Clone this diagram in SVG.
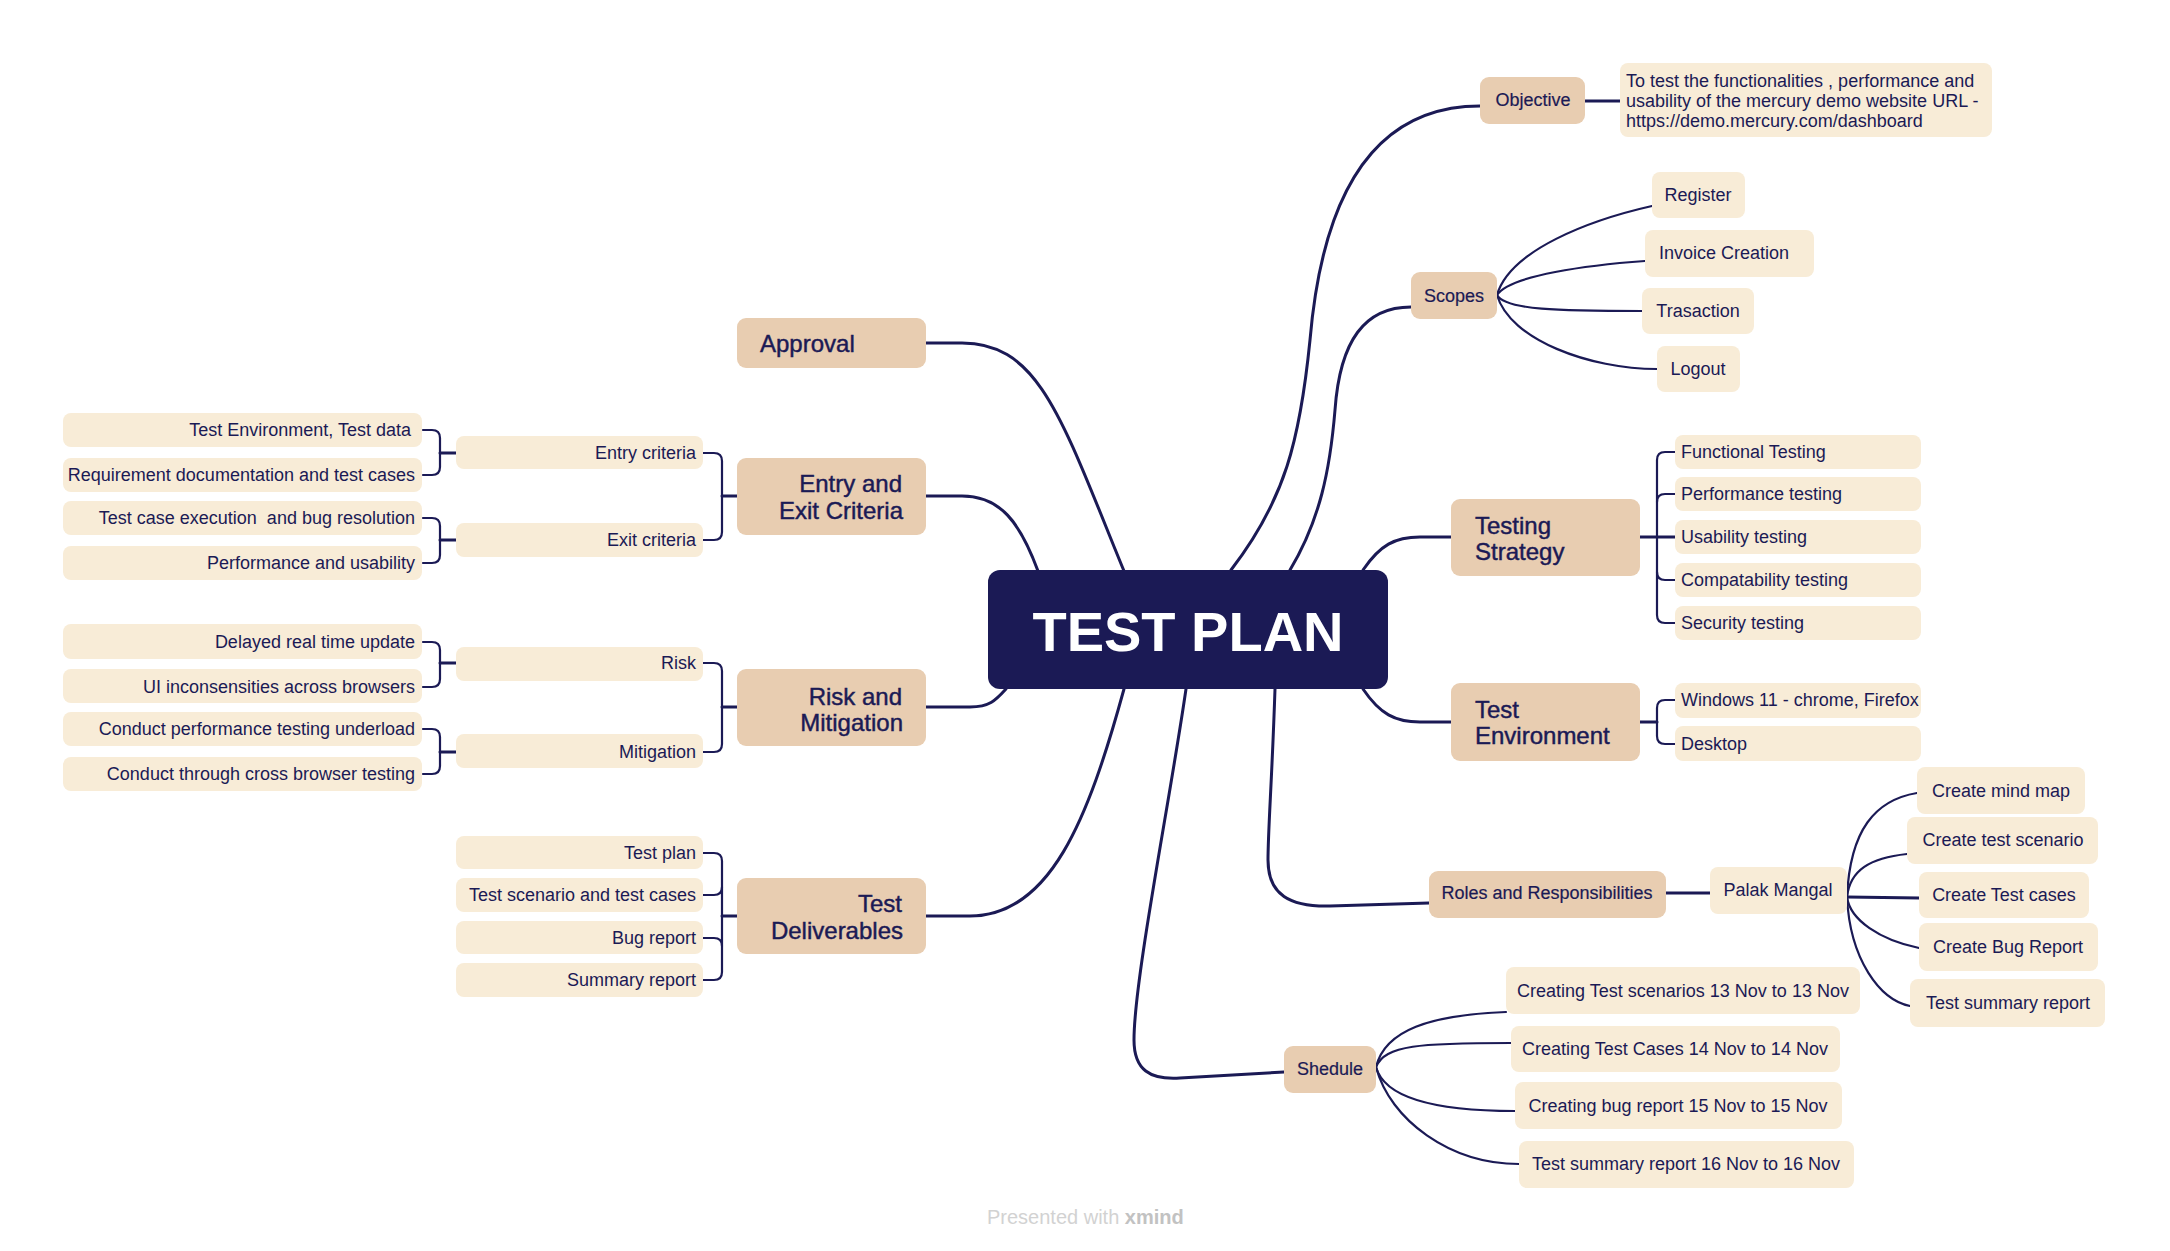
<svg xmlns="http://www.w3.org/2000/svg" width="2170" height="1251" viewBox="0 0 2170 1251">
<style>
text{font-family:"Liberation Sans",Arial,sans-serif;fill:#1b1a55;dominant-baseline:central}
.main rect{fill:#e8cdb1}
.main text{stroke:#1b1a55;stroke-width:0.45}
.main text.s{stroke-width:0.2}
.sub rect{fill:#f8ecd7}
.m{font-size:24px}
.s{font-size:18px}
.c{text-anchor:middle}
.e{text-anchor:end}
.conn path{fill:none;stroke:#1b1a55;stroke-linecap:round;stroke-linejoin:round}
.thick{stroke-width:3}
.thin{stroke-width:2.2}
</style>
<rect width="2170" height="1251" fill="#ffffff"/>
<g id="connectors" class="conn">
  <!-- central to main topics -->
  <path class="thick" d="M926,343 H962 C1040,343 1062,420 1124,571"/>
  <path class="thick" d="M926,496 H962 C1000,496 1020,522 1038,571"/>
  <path class="thick" d="M926,707 H970 C990,707 996,700 1006,689"/>
  <path class="thick" d="M926,916 H970 C1050,916 1088,820 1124,689"/>
  <path class="thick" d="M1231,570 C1285,500 1300,440 1310,340 C1322,200 1370,106 1480,106"/>
  <path class="thick" d="M1290,570 C1320,520 1330,470 1335,410 C1340,340 1365,307 1411,307"/>
  <path class="thick" d="M1363,570 C1380,545 1395,537 1420,537 H1451"/>
  <path class="thick" d="M1363,689 C1380,714 1395,722 1420,722 H1451"/>
  <path class="thick" d="M1275,689 C1272,780 1268,830 1268,860 C1268,895 1290,907 1330,906 L1429,903"/>
  <path class="thick" d="M1186,689 C1170,800 1134,980 1134,1040 C1134,1070 1150,1080 1180,1078 L1284,1072"/>
  <!-- objective / roles straight links -->
  <path class="thick" d="M1585,101 H1620"/>
  <path class="thick" d="M1666,893 H1710"/>
  <!-- scopes children -->
  <path class="thin" d="M1497,295 C1510,250 1590,220 1652,206"/>
  <path class="thin" d="M1497,295 C1510,275 1590,265 1645,261"/>
  <path class="thin" d="M1497,295 C1505,310 1560,311 1642,311"/>
  <path class="thin" d="M1497,295 C1510,340 1590,369 1657,369"/>
  <!-- palak children -->
  <path class="thin" d="M1847,897 C1850,830 1875,800 1917,793"/>
  <path class="thin" d="M1847,897 C1850,870 1870,858 1907,854"/>
  <path class="thick" d="M1847,897 L1919,898"/>
  <path class="thin" d="M1847,897 C1850,920 1880,940 1919,948"/>
  <path class="thin" d="M1847,897 C1850,960 1880,1000 1910,1006"/>
  <!-- shedule children -->
  <path class="thin" d="M1376,1067 C1385,1030 1430,1015 1506,1012"/>
  <path class="thin" d="M1376,1067 C1385,1045 1420,1043 1511,1043"/>
  <path class="thin" d="M1376,1067 C1385,1100 1440,1111 1515,1111"/>
  <path class="thin" d="M1376,1067 C1390,1120 1450,1164 1519,1164"/>
  <!-- testing strategy bracket -->
  <path class="thick" d="M1640,537 H1675"/>
  <path class="thin" d="M1675,452 H1665 Q1657,452 1657,460 V615 Q1657,623 1665,623 H1675"/>
  <path class="thin" d="M1657,502 Q1657,494 1665,494 H1675"/>
  <path class="thin" d="M1657,572 Q1657,580 1665,580 H1675"/>
  <!-- test environment bracket -->
  <path class="thick" d="M1640,722 H1657"/>
  <path class="thin" d="M1675,700 H1665 Q1657,700 1657,708 V736 Q1657,744 1665,744 H1675"/>
  <!-- entry and exit bracket -->
  <path class="thick" d="M737,496 H722"/>
  <path class="thin" d="M703,453 H714 Q722,453 722,461 V532 Q722,540 714,540 H703"/>
  <path class="thick" d="M456,453 H440"/>
  <path class="thin" d="M423,430 H432 Q440,430 440,438 V467 Q440,475 432,475 H423"/>
  <path class="thick" d="M456,540 H440"/>
  <path class="thin" d="M423,518 H432 Q440,518 440,526 V555 Q440,563 432,563 H423"/>
  <!-- risk and mitigation bracket -->
  <path class="thick" d="M737,707 H722"/>
  <path class="thin" d="M703,663 H714 Q722,663 722,671 V744 Q722,752 714,752 H703"/>
  <path class="thick" d="M456,663 H440"/>
  <path class="thin" d="M423,642 H432 Q440,642 440,650 V679 Q440,687 432,687 H423"/>
  <path class="thick" d="M456,752 H440"/>
  <path class="thin" d="M423,729 H432 Q440,729 440,737 V766 Q440,774 432,774 H423"/>
  <!-- deliverables bracket -->
  <path class="thick" d="M737,916 H722"/>
  <path class="thin" d="M703,853 H714 Q722,853 722,861 V972 Q722,980 714,980 H703"/>
  <path class="thin" d="M722,887 Q722,895 714,895 H703"/>
  <path class="thin" d="M722,946 Q722,938 714,938 H703"/>
</g>

<g id="central">
  <rect x="988" y="570" width="400" height="119" rx="12" fill="#1b1a55"/>
  <text x="1188" y="631" class="c" style="fill:#ffffff;font-size:56px;font-weight:bold">TEST PLAN</text>
</g>

<!-- left main topics -->
<g id="approval" class="main"><rect x="737" y="318" width="189" height="50" rx="9"/><text x="760" y="343" class="m">Approval</text></g>
<g id="entry-exit" class="main"><rect x="737" y="458" width="189" height="77" rx="9"/><text x="902" y="483" class="m e">Entry and</text><text x="903" y="510" class="m e">Exit Criteria</text></g>
<g id="risk-mitigation" class="main"><rect x="737" y="669" width="189" height="77" rx="9"/><text x="902" y="696" class="m e">Risk and</text><text x="903" y="722" class="m e">Mitigation</text></g>
<g id="deliverables" class="main"><rect x="737" y="878" width="189" height="76" rx="9"/><text x="902" y="903" class="m e">Test</text><text x="903" y="930" class="m e">Deliverables</text></g>

<!-- left subtopics -->
<g id="entry-criteria" class="sub"><rect x="456" y="436" width="247" height="33" rx="8"/><text x="696" y="453" class="s e">Entry criteria</text></g>
<g id="exit-criteria" class="sub"><rect x="456" y="523" width="247" height="34" rx="8"/><text x="696" y="540" class="s e">Exit criteria</text></g>
<g id="risk" class="sub"><rect x="456" y="647" width="247" height="34" rx="8"/><text x="696" y="663" class="s e">Risk</text></g>
<g id="mitigation" class="sub"><rect x="456" y="734" width="247" height="34" rx="8"/><text x="696" y="752" class="s e">Mitigation</text></g>
<g id="test-plan" class="sub"><rect x="456" y="836" width="247" height="33" rx="8"/><text x="696" y="853" class="s e">Test plan</text></g>
<g id="test-scenario-cases" class="sub"><rect x="456" y="878" width="247" height="34" rx="8"/><text x="696" y="895" class="s e">Test scenario and test cases</text></g>
<g id="bug-report" class="sub"><rect x="456" y="921" width="247" height="33" rx="8"/><text x="696" y="938" class="s e">Bug report</text></g>
<g id="summary-report" class="sub"><rect x="456" y="963" width="247" height="34" rx="8"/><text x="696" y="980" class="s e">Summary report</text></g>

<!-- left leaves -->
<g id="leaf-env-data" class="sub"><rect x="63" y="413" width="359" height="34" rx="8"/><text x="411" y="430" class="s e">Test Environment, Test data</text></g>
<g id="leaf-req-doc" class="sub"><rect x="63" y="458" width="359" height="34" rx="8"/><text x="415" y="475" class="s e">Requirement documentation and test cases</text></g>
<g id="leaf-exec" class="sub"><rect x="63" y="501" width="359" height="34" rx="8"/><text x="415" y="518" class="s e" xml:space="preserve">Test case execution  and bug resolution</text></g>
<g id="leaf-perf-usab" class="sub"><rect x="63" y="546" width="359" height="34" rx="8"/><text x="415" y="563" class="s e">Performance and usability</text></g>
<g id="leaf-delayed" class="sub"><rect x="63" y="624" width="359" height="35" rx="8"/><text x="415" y="642" class="s e">Delayed real time update</text></g>
<g id="leaf-ui" class="sub"><rect x="63" y="669" width="359" height="34" rx="8"/><text x="415" y="687" class="s e">UI inconsensities across browsers</text></g>
<g id="leaf-perf-load" class="sub"><rect x="63" y="712" width="359" height="34" rx="8"/><text x="415" y="729" class="s e">Conduct performance testing underload</text></g>
<g id="leaf-cross" class="sub"><rect x="63" y="757" width="359" height="34" rx="8"/><text x="415" y="774" class="s e">Conduct through cross browser testing</text></g>

<!-- right main topics -->
<g id="objective" class="main"><rect x="1480" y="77" width="105" height="47" rx="9"/><text x="1533" y="100" class="s c">Objective</text></g>
<g id="scopes" class="main"><rect x="1411" y="272" width="86" height="47" rx="9"/><text x="1454" y="296" class="s c">Scopes</text></g>
<g id="testing-strategy" class="main"><rect x="1451" y="499" width="189" height="77" rx="9"/><text x="1475" y="525" class="m">Testing</text><text x="1475" y="551" class="m">Strategy</text></g>
<g id="test-environment" class="main"><rect x="1451" y="683" width="189" height="78" rx="9"/><text x="1475" y="709" class="m">Test</text><text x="1475" y="735" class="m">Environment</text></g>
<g id="roles" class="main"><rect x="1429" y="871" width="237" height="47" rx="9"/><text x="1547" y="893" class="s c">Roles and Responsibilities</text></g>
<g id="shedule" class="main"><rect x="1284" y="1046" width="92" height="47" rx="9"/><text x="1330" y="1069" class="s c">Shedule</text></g>

<!-- right subtopics -->
<g id="objective-desc" class="sub"><rect x="1620" y="63" width="372" height="74" rx="8"/>
  <text x="1626" y="81" class="s">To test the functionalities , performance and</text>
  <text x="1626" y="101" class="s">usability of the mercury demo website URL -</text>
  <text x="1626" y="121" class="s">https://demo.mercury.com/dashboard</text></g>
<g id="register" class="sub"><rect x="1652" y="172" width="93" height="46" rx="8"/><text x="1698" y="195" class="s c">Register</text></g>
<g id="invoice" class="sub"><rect x="1645" y="230" width="169" height="47" rx="8"/><text x="1724" y="253" class="s c">Invoice Creation</text></g>
<g id="trasaction" class="sub"><rect x="1642" y="288" width="112" height="46" rx="8"/><text x="1698" y="311" class="s c">Trasaction</text></g>
<g id="logout" class="sub"><rect x="1657" y="346" width="83" height="46" rx="8"/><text x="1698" y="369" class="s c">Logout</text></g>

<g id="functional" class="sub"><rect x="1675" y="435" width="246" height="34" rx="8"/><text x="1681" y="452" class="s">Functional Testing</text></g>
<g id="performance" class="sub"><rect x="1675" y="477" width="246" height="34" rx="8"/><text x="1681" y="494" class="s">Performance testing</text></g>
<g id="usability" class="sub"><rect x="1675" y="520" width="246" height="34" rx="8"/><text x="1681" y="537" class="s">Usability testing</text></g>
<g id="compatability" class="sub"><rect x="1675" y="563" width="246" height="34" rx="8"/><text x="1681" y="580" class="s">Compatability testing</text></g>
<g id="security" class="sub"><rect x="1675" y="606" width="246" height="34" rx="8"/><text x="1681" y="623" class="s">Security testing</text></g>

<g id="windows" class="sub"><rect x="1675" y="683" width="246" height="35" rx="8"/><text x="1681" y="700" class="s">Windows 11 - chrome, Firefox</text></g>
<g id="desktop" class="sub"><rect x="1675" y="726" width="246" height="35" rx="8"/><text x="1681" y="744" class="s">Desktop</text></g>

<g id="palak" class="sub"><rect x="1710" y="867" width="137" height="47" rx="8"/><text x="1778" y="890" class="s c">Palak Mangal</text></g>
<g id="mind-map" class="sub"><rect x="1917" y="767" width="168" height="47" rx="8"/><text x="2001" y="791" class="s c">Create mind map</text></g>
<g id="create-scenario" class="sub"><rect x="1907" y="817" width="191" height="47" rx="8"/><text x="2003" y="840" class="s c">Create test scenario</text></g>
<g id="create-cases" class="sub"><rect x="1919" y="872" width="170" height="46" rx="8"/><text x="2004" y="895" class="s c">Create Test cases</text></g>
<g id="create-bug" class="sub"><rect x="1919" y="923" width="179" height="48" rx="8"/><text x="2008" y="947" class="s c">Create Bug Report</text></g>
<g id="summary-role" class="sub"><rect x="1910" y="979" width="195" height="48" rx="8"/><text x="2008" y="1003" class="s c">Test summary report</text></g>

<g id="sched-1" class="sub"><rect x="1506" y="967" width="354" height="47" rx="8"/><text x="1683" y="991" class="s c">Creating Test scenarios 13 Nov to 13 Nov</text></g>
<g id="sched-2" class="sub"><rect x="1511" y="1026" width="329" height="46" rx="8"/><text x="1675" y="1049" class="s c">Creating Test Cases 14 Nov to 14 Nov</text></g>
<g id="sched-3" class="sub"><rect x="1515" y="1082" width="327" height="47" rx="8"/><text x="1678" y="1106" class="s c">Creating bug report 15 Nov to 15 Nov</text></g>
<g id="sched-4" class="sub"><rect x="1519" y="1141" width="335" height="47" rx="8"/><text x="1686" y="1164" class="s c">Test summary report 16 Nov to 16 Nov</text></g>

<text x="987" y="1217" style="font-size:20px;fill:#d2d2d2">Presented with <tspan style="font-weight:bold;fill:#c2c2c2">xmind</tspan></text>
</svg>
